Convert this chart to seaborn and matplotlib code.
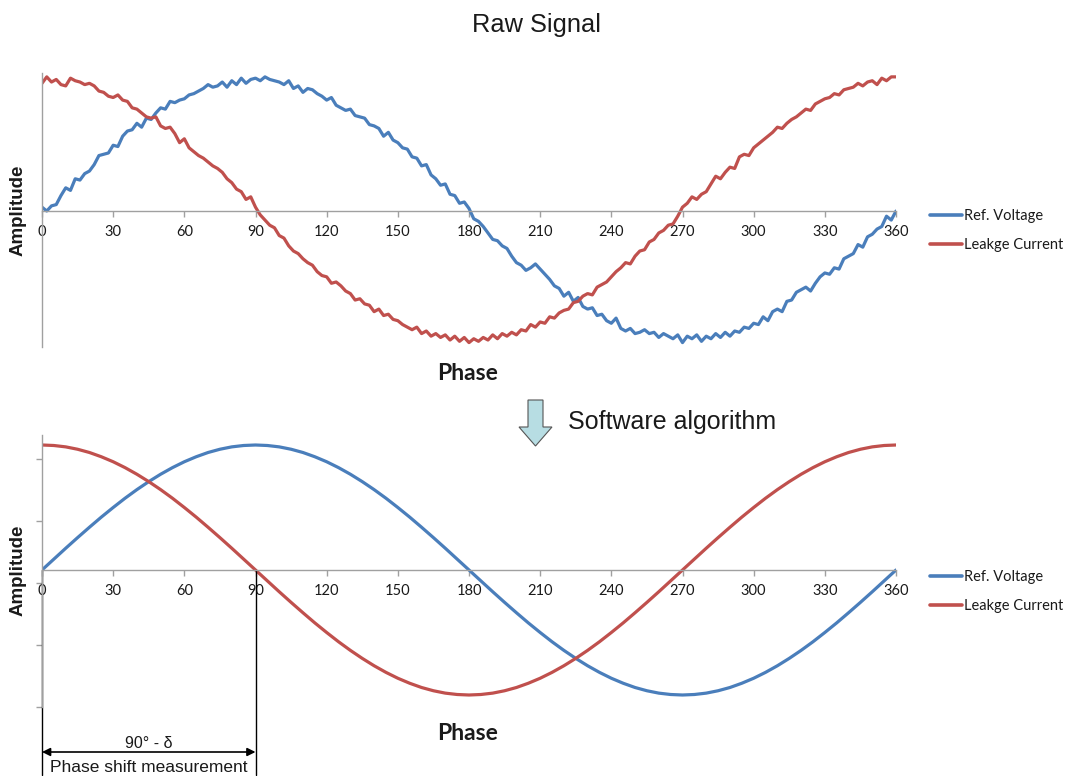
import numpy as np
import pandas as pd
import matplotlib
matplotlib.use("Agg")
import matplotlib.pyplot as plt
import matplotlib.patches as mpatches
import seaborn as sns

# ---------------- data ----------------
raw_phase = list(range(0, 361, 2))
raw_voltage = [
    0.03, 0.00, 0.04, 0.05, 0.12, 0.18, 0.16, 0.25, 0.24, 0.29,
    0.31, 0.36, 0.43, 0.44, 0.45, 0.51, 0.50, 0.58, 0.62, 0.63,
    0.68, 0.65, 0.72, 0.71, 0.76, 0.80, 0.79, 0.85, 0.84, 0.86,
    0.87, 0.90, 0.91, 0.93, 0.95, 0.98, 0.96, 0.97, 1.00, 0.96,
    1.01, 0.98, 1.03, 0.99, 1.02, 1.03, 1.01, 1.04, 1.02, 1.01,
    1.00, 0.98, 1.01, 0.95, 0.97, 0.92, 0.95, 0.94, 0.91, 0.89,
    0.86, 0.88, 0.82, 0.80, 0.78, 0.79, 0.74, 0.73, 0.72, 0.67,
    0.66, 0.64, 0.58, 0.61, 0.55, 0.53, 0.49, 0.48, 0.42, 0.41,
    0.35, 0.36, 0.28, 0.25, 0.20, 0.21, 0.13, 0.12, 0.06, 0.07,
    0.02, -0.06, -0.08, -0.12, -0.17, -0.22, -0.23, -0.27, -0.29, -0.35,
    -0.40, -0.42, -0.46, -0.44, -0.41, -0.45, -0.49, -0.53, -0.58, -0.60,
    -0.66, -0.63, -0.70, -0.67, -0.74, -0.76, -0.75, -0.81, -0.80, -0.85,
    -0.87, -0.83, -0.91, -0.93, -0.91, -0.95, -0.94, -0.92, -0.95, -0.94,
    -0.98, -0.95, -0.97, -0.99, -0.96, -1.02, -0.97, -0.99, -0.96, -1.01,
    -0.97, -0.99, -0.95, -0.98, -0.94, -0.97, -0.93, -0.94, -0.90, -0.91,
    -0.87, -0.88, -0.82, -0.85, -0.78, -0.76, -0.78, -0.70, -0.69, -0.63,
    -0.61, -0.59, -0.62, -0.56, -0.51, -0.48, -0.49, -0.44, -0.45, -0.37,
    -0.35, -0.33, -0.26, -0.28, -0.20, -0.18, -0.14, -0.12, -0.04, -0.07,
    0.00,
]
raw_current = [
    0.99, 1.04, 1.00, 1.02, 0.98, 0.97, 1.03, 1.01, 1.00, 0.98,
    0.99, 0.97, 0.93, 0.92, 0.89, 0.88, 0.90, 0.86, 0.85, 0.80,
    0.79, 0.76, 0.73, 0.72, 0.73, 0.66, 0.64, 0.65, 0.60, 0.53,
    0.56, 0.49, 0.46, 0.43, 0.41, 0.38, 0.35, 0.33, 0.30, 0.25,
    0.22, 0.17, 0.15, 0.09, 0.11, 0.03, -0.03, -0.07, -0.11, -0.13,
    -0.19, -0.21, -0.27, -0.31, -0.33, -0.37, -0.40, -0.42, -0.47, -0.50,
    -0.51, -0.56, -0.55, -0.58, -0.62, -0.64, -0.69, -0.68, -0.72, -0.73,
    -0.78, -0.76, -0.81, -0.80, -0.84, -0.85, -0.88, -0.90, -0.92, -0.90,
    -0.95, -0.93, -0.97, -0.95, -0.98, -0.96, -1.00, -0.97, -1.01, -0.98,
    -1.02, -0.99, -1.01, -0.98, -1.00, -0.96, -0.99, -0.95, -0.97, -0.94,
    -0.96, -0.92, -0.93, -0.88, -0.90, -0.86, -0.87, -0.82, -0.83, -0.79,
    -0.77, -0.76, -0.71, -0.70, -0.66, -0.64, -0.65, -0.59, -0.57, -0.55,
    -0.51, -0.47, -0.44, -0.40, -0.41, -0.35, -0.31, -0.30, -0.24, -0.22,
    -0.17, -0.15, -0.11, -0.10, -0.04, 0.03, 0.06, 0.11, 0.09, 0.13,
    0.15, 0.21, 0.27, 0.25, 0.30, 0.34, 0.33, 0.42, 0.44, 0.43,
    0.49, 0.52, 0.55, 0.58, 0.61, 0.65, 0.64, 0.68, 0.71, 0.73,
    0.76, 0.79, 0.78, 0.83, 0.85, 0.87, 0.88, 0.91, 0.90, 0.94,
    0.95, 0.96, 0.99, 0.97, 1.00, 1.01, 0.98, 1.03, 1.01, 1.04,
    1.04,
]

clean_phase = list(range(0, 361, 5))
clean_voltage = [
    0.000, 0.087, 0.174, 0.259, 0.342, 0.423, 0.500, 0.574, 0.643, 0.707,
    0.766, 0.819, 0.866, 0.906, 0.940, 0.966, 0.985, 0.996, 1.000, 0.996,
    0.985, 0.966, 0.940, 0.906, 0.866, 0.819, 0.766, 0.707, 0.643, 0.574,
    0.500, 0.423, 0.342, 0.259, 0.174, 0.087, 0.000, -0.087, -0.174, -0.259,
    -0.342, -0.423, -0.500, -0.574, -0.643, -0.707, -0.766, -0.819, -0.866, -0.906,
    -0.940, -0.966, -0.985, -0.996, -1.000, -0.996, -0.985, -0.966, -0.940, -0.906,
    -0.866, -0.819, -0.766, -0.707, -0.643, -0.574, -0.500, -0.423, -0.342, -0.259,
    -0.174, -0.087, 0.000,
]
clean_current = [
    1.000, 0.996, 0.985, 0.966, 0.940, 0.906, 0.866, 0.819, 0.766, 0.707,
    0.643, 0.574, 0.500, 0.423, 0.342, 0.259, 0.174, 0.087, 0.000, -0.087,
    -0.174, -0.259, -0.342, -0.423, -0.500, -0.574, -0.643, -0.707, -0.766, -0.819,
    -0.866, -0.906, -0.940, -0.966, -0.985, -0.996, -1.000, -0.996, -0.985, -0.966,
    -0.940, -0.906, -0.866, -0.819, -0.766, -0.707, -0.643, -0.574, -0.500, -0.423,
    -0.342, -0.259, -0.174, -0.087, 0.000, 0.087, 0.174, 0.259, 0.342, 0.423,
    0.500, 0.574, 0.643, 0.707, 0.766, 0.819, 0.866, 0.906, 0.940, 0.966,
    0.985, 0.996, 1.000,
]

x_ticks = list(range(0, 361, 30))
series_labels = ["Ref. Voltage", "Leakge Current"]
phase_shift = 90  # measured phase shift between the clean curves

# ---------------- style ----------------
sns.set_theme(style="white")
plt.rcParams["font.family"] = ["Lato", "DejaVu Sans"]

BLUE = "#4a7ebb"
RED = "#c0504d"
AXIS_GREY = "#a0a0a0"
TEXT = "#1a1a1a"
ARIAL = ["Liberation Sans", "DejaVu Sans"]

W, H = 1067, 776
fig = plt.figure(figsize=(W / 100, H / 100), dpi=100)


def px_axes(x0, y0, x1, y1):
    return fig.add_axes([x0 / W, 1 - y1 / H, (x1 - x0) / W, (y1 - y0) / H])


ax1 = px_axes(42, 73, 896, 347)
ax2 = px_axes(42, 435, 896, 707)

raw_df = pd.DataFrame({"phase": raw_phase, "v": raw_voltage, "i": raw_current})
clean_df = pd.DataFrame({"phase": clean_phase, "v": clean_voltage, "i": clean_current})

for ax, df, ylim in [(ax1, raw_df, (-1.054, 1.07)), (ax2, clean_df, (-1.096, 1.08))]:
    sns.lineplot(data=df, x="phase", y="v", ax=ax, color=BLUE, lw=2.3,
                 label=series_labels[0], sort=False)
    sns.lineplot(data=df, x="phase", y="i", ax=ax, color=RED, lw=2.3,
                 label=series_labels[1], sort=False)
    ax.set_xlim(0, 360)
    ax.set_ylim(*ylim)
    ax.set_xlabel("")
    ax.set_ylabel("")
    for s in ["top", "right"]:
        ax.spines[s].set_visible(False)
    ax.spines["bottom"].set_position(("data", 0))
    ax.spines["left"].set_color(AXIS_GREY)
    ax.spines["bottom"].set_color(AXIS_GREY)
    ax.spines["left"].set_linewidth(1.0)
    ax.spines["bottom"].set_linewidth(1.0)
    ax.set_xticks(x_ticks)
    ax.set_xticklabels([str(t) for t in x_ticks])
    ax.tick_params(axis="x", direction="out", length=4, width=1, color=AXIS_GREY,
                   labelsize=10.5, labelcolor=TEXT, pad=6, bottom=True)
    ax.patch.set_alpha(0)
    leg = ax.legend(loc="upper left", bbox_to_anchor=((930 - 42) / 854, 0.503),
                    frameon=False, fontsize=10.5, handlelength=2.2,
                    handletextpad=0.1, labelspacing=1.0, borderpad=0,
                    borderaxespad=0)
    for line in leg.get_lines():
        line.set_linewidth(2.6)
    for t in leg.get_texts():
        t.set_color(TEXT)

ax1.set_yticks([])
y2_ticks = [0.888, 0.392, -0.104, -0.6, -1.096]
ax2.set_yticks(y2_ticks)
ax2.set_yticklabels([])
ax2.tick_params(axis="y", direction="out", length=4, width=1, color=AXIS_GREY, left=True)

# ---------------- texts ----------------
fig.text(537 / W, 1 - 25 / H, "Raw Signal", ha="center", va="center",
         fontsize=18.3, family=ARIAL, color=TEXT)
for yc in (210, 570):
    fig.text(18 / W, 1 - yc / H, "Amplitude", ha="center", va="center", rotation=90,
             fontsize=13.5, fontweight="bold", family=ARIAL, color=TEXT)
for yc in (373, 733):
    fig.text(468 / W, 1 - yc / H, "Phase", ha="center", va="center",
             fontsize=16.5, fontweight="bold", family=["Lato", "DejaVu Sans"], color=TEXT)

fig.text(568 / W, 1 - 422 / H, "Software algorithm", ha="left", va="center",
         fontsize=18, family=ARIAL, color=TEXT)

# block down-arrow
arrow_px = [(528, 400), (543, 400), (543, 427), (552, 427), (535.5, 446),
            (519, 427), (528, 427)]
arrow = mpatches.Polygon([(x / W, 1 - y / H) for x, y in arrow_px], closed=True,
                         transform=fig.transFigure, facecolor="#b7dde3",
                         edgecolor="#555555", lw=0.8)
fig.patches.append(arrow)

# ---------------- phase shift annotation ----------------
trans = ax2.get_xaxis_transform()
ylo, yhi = ax2.get_ylim()
y_zero = (0 - ylo) / (yhi - ylo)
y_end = (707 - 775) / 272
for xv in (0, phase_shift):
    ax2.plot([xv, xv], [y_zero, y_end], transform=trans, color="black", lw=1.0,
             clip_on=False)
y_arr = (707 - 752) / 272
ax2.annotate("", xy=(phase_shift, y_arr), xytext=(0, y_arr),
             xycoords=("data", "axes fraction"), textcoords=("data", "axes fraction"),
             arrowprops=dict(arrowstyle="<|-|>", color="black", lw=1.2,
                             shrinkA=0, shrinkB=0, mutation_scale=12),
             annotation_clip=False)
ax2.text(phase_shift / 2, (707 - 743) / 272, "90° - δ", transform=trans,
         ha="center", va="center", fontsize=11.5, family=ARIAL, color=TEXT)
ax2.text(phase_shift / 2, (707 - 768) / 272, "Phase shift measurement", transform=trans,
         ha="center", va="center", fontsize=12.5, family=ARIAL, color=TEXT)

fig.savefig("out.png", dpi=100)
